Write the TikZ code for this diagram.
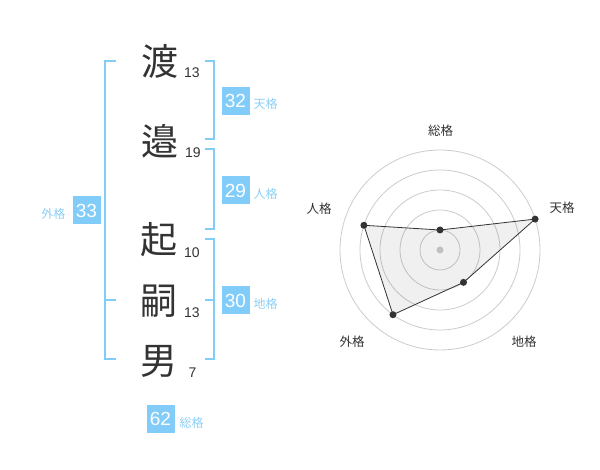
\documentclass[tikz,border=0pt]{standalone}
\usepackage{fontspec}
\setmainfont{Liberation Sans}
\newfontfamily\cjk{Noto Sans CJK JP}
\newfontfamily\lat{Liberation Sans}
\definecolor{skyb}{RGB}{130,204,250}
\definecolor{labb}{RGB}{140,208,246}
\definecolor{ink}{RGB}{51,51,51}
\definecolor{ring}{RGB}{204,204,204}
\begin{document}
\begin{tikzpicture}[x=1pt,y=-1pt,
  kanji/.style={font=\cjk\fontsize{37}{37}\selectfont, text=ink, inner sep=0pt},
  strokes/.style={font=\lat\fontsize{14}{14}\selectfont, text=ink, inner sep=0pt},
  numbox/.style={fill=skyb, text=white, minimum width=28pt, minimum height=28pt, inner sep=0pt, font=\lat\fontsize{19}{19}\selectfont},
  lab/.style={font=\cjk\fontsize{12}{12}\selectfont, text=labb, inner sep=0pt},
  brk/.style={draw=skyb, line width=2pt},
  rlab/.style={font=\cjk\fontsize{12.5}{12.5}\selectfont, text=ink, inner sep=0pt},
  ringc/.style={draw=ring, line width=0.8pt},
  dot/.style={circle, fill=ink, inner sep=0pt, minimum size=7pt}]
\useasboundingbox (0,0) rectangle (600,470);
\fill[white] (0,0) rectangle (600,470);

% name characters
\node[kanji] (c1) at (160,61) {渡};
\node[kanji] (c2) at (160,141) {邉};
\node[kanji] (c3) at (159,240) {起};
\node[kanji] (c4) at (159,301) {嗣};
\node[kanji] (c5) at (159,361) {男};
\node[strokes] (s1) at (192,73) {13};
\node[strokes] (s2) at (193,153) {19};
\node[strokes] (s3) at (192,253) {10};
\node[strokes] (s4) at (192,313) {13};
\node[strokes] (s5) at (192.5,373) {7};

% brackets
\draw[brk] (116,60.7) -- (105,60.7) -- (105,359) -- (116,359);
\draw[brk] (105,300) -- (116,300);
\draw[brk] (205,60.7) -- (214,60.7) -- (214,139) -- (205,139);
\draw[brk] (205,149) -- (214,149) -- (214,229) -- (205,229);
\draw[brk] (205,239) -- (214,239) -- (214,359) -- (205,359);
\draw[brk] (205,300) -- (214,300);

% fortune boxes
\node[numbox] (b32) at (235.5,101) {32};
\node[lab] (l32) at (265.7,104.3) {天格};
\node[numbox] (b29) at (235.5,190.5) {29};
\node[lab] (l29) at (265.7,194) {人格};
\node[numbox] (b30) at (235.5,300.5) {30};
\node[lab] (l30) at (265.7,304) {地格};
\node[numbox] (b33) at (86.5,210.5) {33};
\node[lab] (l33) at (53.3,213.5) {外格};
\node[numbox] (b62) at (160.5,419) {62};
\node[lab] (l62) at (191.5,422.5) {総格};

% radar chart
\coordinate (O) at (440,250);
\foreach \r in {20,40,60,80,100} \draw[ringc] (O) circle[radius=\r];
\fill[ring] (O) circle[radius=3.5];
\path (O) ++(0,-20) coordinate (pS);
\path (O) ++({100*cos(18)},{-100*sin(18)}) coordinate (pT);
\path (O) ++({40*cos(54)},{40*sin(54)}) coordinate (pC);
\path (O) ++({-80*cos(54)},{80*sin(54)}) coordinate (pG);
\path (O) ++({-80*cos(18)},{-80*sin(18)}) coordinate (pJ);
\filldraw[fill=black, fill opacity=0.06, draw=ink, line width=0.8pt] (pS) -- (pT) -- (pC) -- (pG) -- (pJ) -- cycle;
\foreach \p in {pS,pT,pC,pG,pJ} \node[dot] at (\p) {};
\node[rlab] (rS) at (440.7,130.5) {総格};
\node[rlab] (rT) at (562,208) {天格};
\node[rlab] (rJ) at (319,209) {人格};
\node[rlab] (rG) at (352,342) {外格};
\node[rlab] (rC) at (524,342) {地格};
\end{tikzpicture}
\end{document}
